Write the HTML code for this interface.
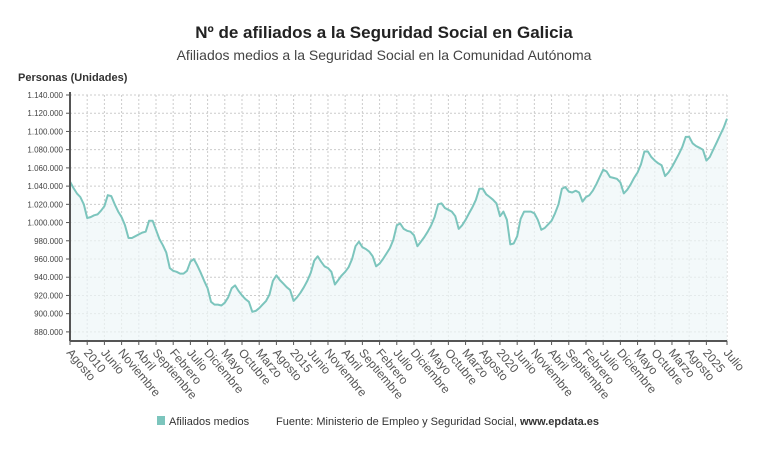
<!DOCTYPE html>
<html><head><meta charset="utf-8">
<style>
body{margin:0;background:#fff;font-family:"Liberation Sans",sans-serif;}
svg text{font-family:"Liberation Sans",sans-serif;}
</style></head>
<body>
<svg id="chart" width="768" height="451" viewBox="0 0 768 451" xmlns="http://www.w3.org/2000/svg">
<text x="384" y="38" text-anchor="middle" font-size="17" font-weight="bold" fill="#222">Nº de afiliados a la Seguridad Social en Galicia</text>
<text x="384" y="60" text-anchor="middle" font-size="14" fill="#444">Afiliados medios a la Seguridad Social en la Comunidad Autónoma</text>
<text x="18" y="81" font-size="11" font-weight="bold" fill="#333">Personas (Unidades)</text>
<g id="grid"></g>
<g id="marks"></g>
<g id="axes"></g>
<g>
<rect x="157" y="416" width="8" height="9" fill="#7cc5bd"/>
<text x="169" y="425" font-size="11" fill="#333">Afiliados medios</text>
<text x="276" y="425" font-size="11" fill="#333">Fuente: Ministerio de Empleo y Seguridad Social, <tspan font-weight="bold">www.epdata.es</tspan></text>
</g>
</svg>
<script>
const startYear = 2009, startMonth = 7; // Aug 2009
const values = [
1045,1038,1032,1028,1020,
1005,1006,1008,1009,1013,1018,1030,1029,1020,1012,1006,997,
983,983,985,987,989,990,1002,1002,992,982,975,967,
950,947,946,944,944,947,957,960,953,945,936,928,
913,910,910,909,912,918,928,931,925,920,916,913,
902,903,906,910,914,921,936,942,937,933,929,926,
914,918,923,929,936,945,958,963,957,952,950,946,
932,937,942,946,951,960,974,979,973,971,968,963,
952,955,960,966,972,981,997,999,993,991,990,986,
974,979,984,990,997,1006,1020,1021,1016,1014,1012,1007,
993,997,1003,1010,1017,1025,1037,1037,1031,1028,1025,1021,
1007,1012,1003,976,977,985,1004,1012,1012,1012,1010,1003,
992,994,998,1002,1010,1020,1037,1039,1034,1033,1035,1033,
1023,1028,1030,1035,1042,1050,1058,1056,1050,1049,1048,1044,
1032,1036,1042,1049,1055,1064,1078,1078,1072,1068,1065,1063,
1051,1055,1061,1068,1075,1083,1094,1094,1087,1084,1082,1080,
1068,1072,1080,1088,1096,1104,1114
];
const monthNames = ["Enero","Febrero","Marzo","Abril","Mayo","Junio","Julio","Agosto","Septiembre","Octubre","Noviembre","Diciembre"];
const yTicks = [880,900,920,940,960,980,1000,1020,1040,1060,1080,1100,1120,1140];
const yMin = 870, yMax = 1140;
const x0 = 70, x1 = 727, yTop = 95, yBot = 341;
const ns = "http://www.w3.org/2000/svg";
function X(i){return x0 + i*(x1-x0)/(values.length-1);}
function Y(v){return yBot - (v-yMin)/(yMax-yMin)*(yBot-yTop);}
function mk(tag, attrs, parent){const e=document.createElementNS(ns,tag);for(const k in attrs)e.setAttribute(k,attrs[k]);parent.appendChild(e);return e;}
const grid=document.getElementById('grid'), marks=document.getElementById('marks'), axes=document.getElementById('axes');
yTicks.forEach(t=>{
  const l=mk('line',{x1:x0,x2:x1,y1:Y(t),y2:Y(t),stroke:'#ccc','stroke-dasharray':'2,2','stroke-width':1},grid);
  
  
  const tk=mk('line',{x1:x0-4,x2:x0,y1:Y(t),y2:Y(t),stroke:'#555'},axes);
  
  
  const tx=mk('text',{x:x0-7,y:Y(t)+3,'text-anchor':'end','font-size':8,fill:'#444'},axes);
  tx.textContent=t.toString().replace(/\B(?=(\d{3})+(?!\d))/g,'.')+'.000';
  
  
});
const labelIdx=[];
for(let i=0;i<values.length;i+=5) labelIdx.push(i);
labelIdx[labelIdx.length-1]=values.length-1;
labelIdx.forEach(i=>{
  const m=(startMonth+i)%12, y=startYear+Math.floor((startMonth+i)/12);
  const g=mk('line',{x1:X(i),x2:X(i),y1:yTop,y2:yBot,stroke:'#ccc','stroke-dasharray':'2,2'},grid);
  
  
  const tk=mk('line',{x1:X(i),x2:X(i),y1:yBot,y2:yBot+4,stroke:'#555'},axes);
  
  
  const tx=mk('text',{x:X(i)-4,y:yBot+12,'font-size':12,fill:'#555',transform:`rotate(50 ${X(i)-4} ${yBot+12})`},axes);
  tx.textContent = m===0 ? String(y) : monthNames[m];
  
  
});
let d='';
values.forEach((v,i)=>{d+=(i?'L':'M')+X(i).toFixed(1)+','+Y(v).toFixed(1);});
const area=mk('path',{d:d+`L${X(values.length-1)},${yBot}L${x0},${yBot}Z`,fill:'#eef7f8','fill-opacity':0.7},marks);


const line=mk('path',{d:d,fill:'none',stroke:'#7cc5bd','stroke-width':2,'stroke-linejoin':'round'},marks);


const ya=mk('line',{x1:x0,x2:x0,y1:yTop-3,y2:yBot,stroke:'#555','stroke-width':2},axes);


const xa=mk('line',{x1:x0,x2:x1,y1:yBot,y2:yBot,stroke:'#555','stroke-width':2},axes);


</script>
</body></html>
